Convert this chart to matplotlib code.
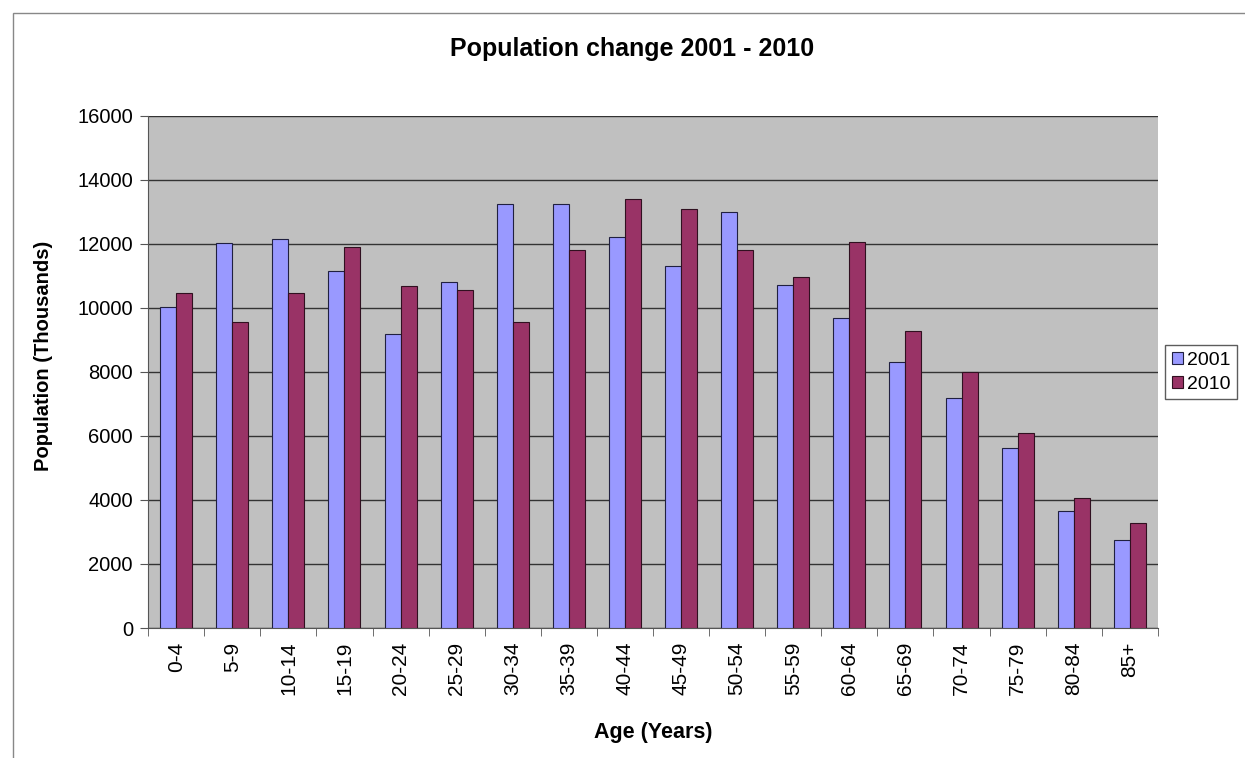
import numpy as np
import matplotlib.pyplot as plt
from matplotlib.patches import Rectangle

plt.rcParams['font.family'] = ['Liberation Sans', 'DejaVu Sans']

# age bands and population (thousands)
ages = ['0-4', '5-9', '10-14', '15-19', '20-24', '25-29', '30-34', '35-39', '40-44',
        '45-49', '50-54', '55-59', '60-64', '65-69', '70-74', '75-79', '80-84', '85+']
pop_2001 = [10030, 12030, 12160, 11150, 9190, 10810, 13250, 13250, 12210,
            11300, 12990, 10730, 9690, 8310, 7190, 5630, 3670, 2740]
pop_2010 = [10470, 9560, 10470, 11900, 10700, 10570, 9560, 11820, 13410,
            13090, 11820, 10960, 12050, 9270, 8000, 6090, 4060, 3280]

fig = plt.figure(figsize=(12.45, 7.58), dpi=100)
ax = fig.add_axes([0.119, 0.1715, 0.811, 0.6755])

x = np.arange(len(ages))
w = 0.285
ax.bar(x - w / 2, pop_2001, w, color='#9999FF', edgecolor='#202040', linewidth=0.8, label='2001', zorder=3)
ax.bar(x + w / 2, pop_2010, w, color='#993366', edgecolor='#301020', linewidth=0.8, label='2010', zorder=3)

ax.set_facecolor('#C0C0C0')
ax.set_xlim(-0.5, len(ages) - 0.5)
ax.set_ylim(0, 16000)
ax.set_yticks(range(0, 16001, 2000))
ax.yaxis.grid(True, color='#333333', linewidth=1.0, zorder=1)
ax.set_axisbelow(True)

ax.set_xticks(x)
ax.set_xticklabels(ages, rotation=90, fontsize=15)
ax.tick_params(axis='x', length=0, pad=10)
ax.set_xticks(np.arange(-0.5, len(ages)), minor=True)
ax.tick_params(axis='x', which='minor', length=6, color='#555555')
ax.tick_params(axis='y', labelsize=14.5, length=6, color='#555555', pad=5)

for s in ['top', 'right']:
    ax.spines[s].set_visible(False)
ax.spines['left'].set_color('#555555')
ax.spines['bottom'].set_color('#555555')

ax.set_xlabel('Age (Years)', fontsize=15.5, fontweight='bold', va='center')
ax.xaxis.set_label_coords(0.5, -0.205)
ax.set_ylabel('Population (Thousands)', fontsize=14.5, fontweight='bold', va='center')
ax.yaxis.set_label_coords(-0.104, 0.531)
fig.text(0.508, 0.935, 'Population change 2001 - 2010', ha='center', va='center',
         fontsize=18, fontweight='bold')

leg = fig.legend(loc='center left', bbox_to_anchor=(0.934, 0.509), fontsize=14,
                 frameon=True, fancybox=False, edgecolor='#333333',
                 handlelength=0.6, handleheight=0.6, handletextpad=0.2,
                 borderpad=0.35, labelspacing=0.35, borderaxespad=0.1)

# outer chart border
fig.patches.append(Rectangle((13 / 1245, -0.1), 1.2, 1 - 13 / 758 + 0.1,
                             transform=fig.transFigure, fill=False,
                             edgecolor='#888888', linewidth=1))

fig.savefig('out.png', dpi=100)
